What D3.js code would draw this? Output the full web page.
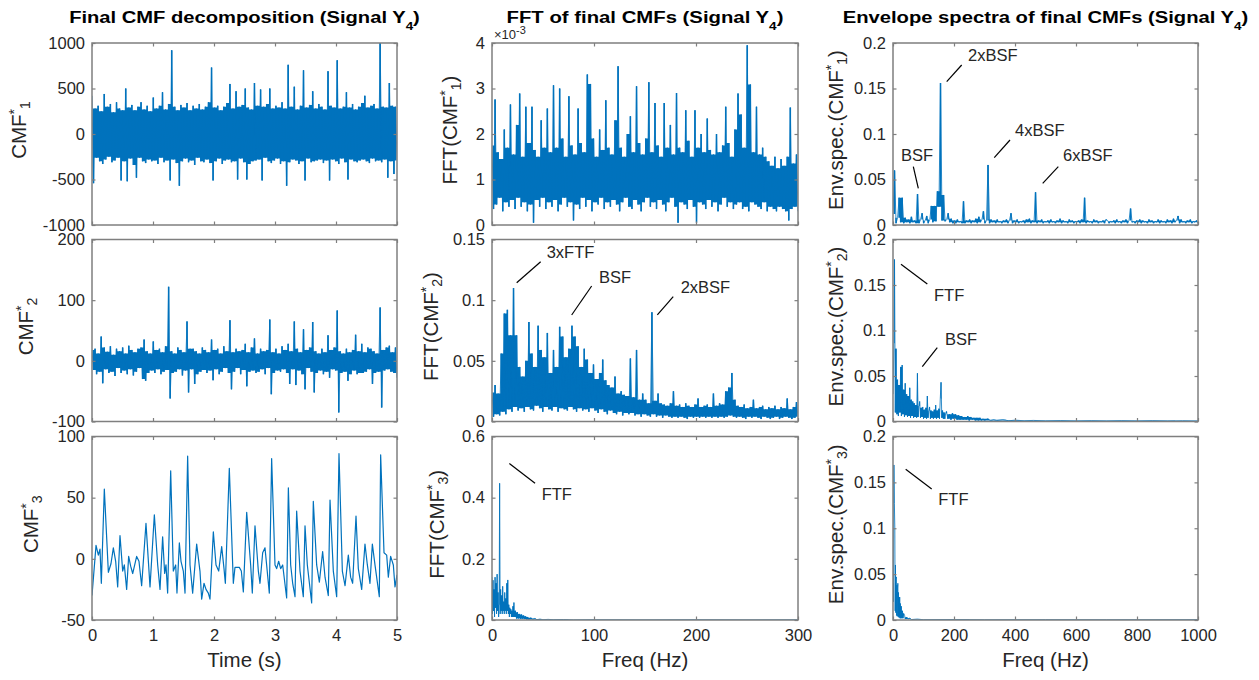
<!DOCTYPE html>
<html><head><meta charset="utf-8">
<script src="https://cdn.jsdelivr.net/npm/d3@7"></script>
<style>
body{margin:0;background:#fff;}
svg{display:block;font-family:"Liberation Sans",Arial,Helvetica,sans-serif;}
</style></head><body>
<svg id="chart" width="1259" height="680"></svg>
<script>
// ---------------- DATA ----------------
const titles = ["Final CMF decomposition (Signal Y", "FFT of final CMFs (Signal Y", "Envelope spectra of final CMFs (Signal Y"];
const titleSub = "4";
const xLabels = ["Time (s)", "Freq (Hz)", "Freq (Hz)"];
const timeTicks = [0, 1, 2, 3, 4, 5];
const fftTicks = [0, 100, 200, 300];
const envTicks = [0, 200, 400, 600, 800, 1000];
const cmf1Ticks = [-1000, -500, 0, 500, 1000];
const cmf2Ticks = [-100, 0, 100, 200];
const cmf3Ticks = [-50, 0, 50, 100];
const fft1Ticks = [0, 1, 2, 3, 4];       // x 10^-3
const fft2Ticks = [0, 0.05, 0.1, 0.15];
const fft3Ticks = [0, 0.2, 0.4, 0.6];
const envYTicks = [0, 0.05, 0.1, 0.15, 0.2];

// CMF*1 over 0..5 s (evenly sampled)
const cmf1Vals = [
 420,-540,280,-260,310,-300,250,-330,440,-280, 300,-250,330,-310,240,-290,350,-260,280,-510,
 260,-300,500,-520,290,-270,320,-340,260,-480, 300,-260,350,-300,270,-320,310,-280,250,-300,
 400,-290,280,-330,310,-260,460,-310,270,-290, 330,-510,920,-280,300,-320,260,-570,320,-300,
 290,-270,340,-310,260,-290,310,-340,280,-260, 330,-300,270,-310,300,-280,350,-320,730,-510,
 290,-300,310,-270,260,-330,300,-290,340,-280, 550,-310,280,-300,470,-500,300,-270,320,-310,
 500,-500,290,-330,270,-300,560,-290,310,-280, 490,-510,300,-260,330,-300,500,-320,280,-290,
 310,-270,290,-330,350,-300,280,-570,760,-310, 300,-280,520,-290,270,-330,310,-300,700,-510,
 290,-270,320,-310,470,-300,280,-290,330,-280, 300,-320,270,-290,690,-510,310,-280,290,-300,
 810,-330,280,-270,300,-310,460,-500,290,-280, 330,-300,270,-310,300,-290,340,-280,420,-300,
 290,-320,310,-270,330,-300,280,-290,1000,-310, 300,-280,290,-480,560,-300,310,-440,300,-290
];
// CMF*2 over 0..5 s (evenly sampled)
const cmf2Vals = [
 18,-15,20,-22,12,-18,40,-37,22,-14, 15,-20,24,-18,10,-25,20,-12,16,-20,
 22,-16,12,-22,25,-14,18,-24,14,-18, 20,-12,22,-30,35,-33,16,-20,12,-16,
 32,-20,18,-14,20,-22,14,-18,24,-15, 122,-62,16,-20,12,-18,22,-14,18,-24,
 14,-16,65,-52,20,-14,20,-38,16,-22, 12,-18,22,-15,18,-20,14,-16,35,-32,
 18,-14,20,-22,12,-18,24,-12,16,-20, 67,-47,14,-18,20,-12,16,-22,18,-15,
 28,-42,14,-18,22,-16,37,-20,12,-18, 20,-14,16,-22,18,-12,68,-55,14,-20,
 20,-16,12,-18,24,-14,18,-20,28,-38, 16,-14,65,-40,20,-16,14,-22,52,-47,
 18,-12,22,-18,64,-52,16,-20,12,-16, 20,-22,14,-18,42,-28,18,-14,22,-16,
 83,-85,16,-20,12,-18,20,-33,14,-22, 18,-16,43,-22,16,-20,28,-20,14,-18,
 22,-14,20,-38,16,-20,12,-18,88,-77, 18,-16,22,-14,25,-18,14,-20,22,-28
];
// CMF*3 (time in s, value)
const cmf3Time = [0,.066,.104,.131,.153,.202,.268,.311,.350,.388,.421,.459,.503,.530,.568,.601,.634,.667,.732,.770,
 .814,.885,.951,1.022,1.077,1.115,1.158,1.191,1.213,1.240,1.290,1.333,1.372,1.393,1.432,1.459,1.497,1.525,1.568,1.607,
 1.650,1.716,1.770,1.798,1.836,1.869,1.907,1.934,1.989,2.033,2.077,2.126,2.164,2.186,2.251,2.317,2.344,2.415,2.448,2.481,
 2.536,2.601,2.628,2.672,2.727,2.754,2.798,2.836,2.863,2.907,2.945,3.000,3.027,3.060,3.093,3.126,3.191,3.219,3.257,3.290,
 3.328,3.355,3.410,3.464,3.492,3.530,3.601,3.628,3.683,3.727,3.781,3.820,3.874,3.902,3.956,4.011,4.049,4.104,4.148,4.202,
 4.240,4.273,4.328,4.366,4.421,4.475,4.514,4.557,4.596,4.639,4.710,4.732,4.787,4.831,4.858,4.896,4.940,4.967,5.000];
const cmf3Vals = [-30,11,3,8,-20,57,-11,-4,9,-2,-23,19,-10,-5,-25,2,-6,-12,2,-2,
 -22,29,-23,36,-5,-25,18,-12,-5,-28,72,-10,-5,-28,13,-2,-10,-28,84,-5,
 -28,12,-10,-33,-20,-25,-28,-33,22,-5,-10,10,-8,-20,74,-20,-7,-7,-10,-27,
 38,-5,-28,27,-10,-20,5,9,-5,-28,82,-5,-8,-2,-8,-5,-32,58,-5,-20,
 -31,39,-10,-31,27,-5,-36,47,-5,-19,6,-15,-30,48,-10,-31,86,-10,-22,3,
 -15,-20,35,-8,-25,12,-5,-20,12,-5,-31,85,5,3,-15,2,-5,-23,-13];

// FFT(CMF*1), 0..300 Hz, values in units of 1e-3
const fft1Milli = [
 1.75,0.35,2.76,0.45,1.6,0.6,1.45,0.3,2.1,0.5, 1.7,0.4,2.65,0.55,1.55,0.35,2.2,0.6,2.89,0.4,
 1.5,0.5,2.6,0.3,1.8,0.45,2.6,0.05,1.65,0.55, 1.5,0.4,2.3,0.6,1.7,0.35,2.56,0.5,1.6,0.4,
 3.07,0.55,1.7,0.3,3.0,0.45,1.9,0.6,1.5,0.4, 2.83,0.5,1.75,0.1,1.55,0.45,2.56,0.35,1.8,0.6,
 1.6,0.4,3.31,0.55,3.1,0.3,1.9,0.5,1.5,0.45, 2.1,0.6,1.65,0.35,2.74,0.5,1.7,0.4,1.55,0.55,
 2.3,0.45,3.49,0.3,1.7,0.5,1.5,0.6,2.0,0.4, 2.39,0.35,1.6,0.55,3.05,0.45,1.8,0.3,1.55,0.5,
 1.9,0.6,3.14,0.4,1.6,0.5,2.68,0.35,1.75,0.55, 1.5,0.45,2.68,0.3,1.7,0.5,2.2,0.6,1.55,0.4,
 2.9,0.05,1.7,0.5,1.6,0.45,2.52,0.35,1.85,0.55, 1.5,0.4,2.52,0.05,1.7,0.5,2.0,0.45,1.6,0.35,
 2.34,0.55,1.65,0.4,1.55,0.5,2.0,0.3,1.6,0.45, 1.75,0.6,2.6,0.4,1.8,0.5,1.5,0.35,2.1,0.45,
 2.89,0.5,2.43,0.35,1.7,0.4,3.95,0.3,3.09,0.5, 1.6,0.45,2.6,0.4,1.55,0.35,1.7,0.5,1.5,0.3,
 1.4,0.4,1.3,0.35,1.5,0.3,1.25,0.4,1.45,0.35, 1.3,0.3,1.5,0.1,2.58,0.35,1.35,0.4,1.55,0.3
];
// FFT(CMF*2), 0..300 Hz
const fft2Vals = [
 0.024,0.004,0.030,0.006,0.023,0.005,0.056,0.008,0.089,0.006, 0.092,0.010,0.071,0.008,0.110,0.012,0.071,0.009,0.045,0.011,
 0.037,0.008,0.050,0.012,0.082,0.010,0.056,0.009,0.045,0.013, 0.079,0.011,0.059,0.008,0.053,0.012,0.073,0.010,0.040,0.009,
 0.059,0.012,0.045,0.008,0.078,0.011,0.070,0.010,0.053,0.009, 0.060,0.012,0.079,0.010,0.070,0.008,0.062,0.011,0.045,0.009,
 0.060,0.010,0.051,0.008,0.040,0.011,0.047,0.009,0.035,0.007, 0.040,0.010,0.051,0.008,0.034,0.006,0.030,0.009,0.028,0.007,
 0.037,0.006,0.023,0.008,0.025,0.005,0.022,0.007,0.021,0.006, 0.052,0.007,0.020,0.005,0.059,0.006,0.018,0.004,0.023,0.006,
 0.018,0.005,0.015,0.004,0.090,0.006,0.017,0.004,0.023,0.005, 0.015,0.003,0.014,0.005,0.013,0.004,0.015,0.003,0.025,0.004,
 0.013,0.003,0.014,0.004,0.012,0.003,0.015,0.002,0.013,0.004, 0.012,0.003,0.014,0.004,0.019,0.003,0.012,0.004,0.013,0.003,
 0.014,0.004,0.012,0.003,0.023,0.004,0.013,0.003,0.015,0.004, 0.014,0.003,0.025,0.004,0.028,0.005,0.040,0.004,0.018,0.003,
 0.013,0.004,0.012,0.003,0.014,0.002,0.011,0.004,0.012,0.003, 0.018,0.004,0.011,0.003,0.012,0.002,0.013,0.004,0.010,0.003,
 0.012,0.002,0.011,0.003,0.013,0.004,0.010,0.002,0.012,0.003, 0.011,0.004,0.019,0.003,0.010,0.002,0.012,0.003,0.016,0.004
];
// FFT(CMF*3) (Hz, value)
const fft3Freq = [0,0.5,1,1.5,2,2.5,3,3.5,4,4.5,5,5.5,6,6.5,7,7.5,8,8.5,9,9.5,10,10.5,11,11.5,12,12.5,13,13.5,14,14.5,15,15.5,16,16.5,17,17.5,18,18.5,19,19.5,20,20.5,21,21.5,22,23,24,25,26,27,28,29,30,31,32,33,34,35,36,38,40,42,44,47,50,55,60,70,80,100,150,200,250,300];
const fft3Vals = [0.14,0.02,0.13,0.03,0.1,0.01,0.14,0.04,0.12,0.02,0.15,0.03,0.09,0.01,0.05,0.447,0.02,0.1,0.03,0.08,0.02,0.11,0.03,0.06,0.02,0.09,0.03,0.07,0.02,0.12,0.03,0.131,0.02,0.05,0.01,0.04,0.02,0.035,0.01,0.03,0.01,0.045,0.01,0.057,0.01,0.03,0.005,0.025,0.005,0.02,0.004,0.018,0.004,0.015,0.003,0.012,0.002,0.01,0.002,0.007,0.002,0.005,0.001,0.003,0.001,0.002,0.001,0.0015,0.0005,0.001,0.0005,0.001,0.0005,0.0008];

// Envelope spectrum CMF*1, 0..1000 Hz (evenly sampled)
const env1Vals = [
 0.012,0.060,0.002,0.008,0.030,0.003,0.030,0.002,0.008,0.003, 0.006,0.002,0.009,0.003,0.005,0.002,0.034,0.002,0.006,0.013,
 0.002,0.005,0.010,0.002,0.006,0.021,0.003,0.021,0.004,0.037, 0.020,0.156,0.005,0.033,0.004,0.006,0.013,0.003,0.007,0.002,
 0.005,0.002,0.006,0.003,0.004,0.002,0.026,0.002,0.005,0.003, 0.006,0.002,0.005,0.003,0.007,0.002,0.009,0.003,0.006,0.015,
 0.002,0.005,0.066,0.002,0.006,0.003,0.005,0.002,0.006,0.003, 0.004,0.002,0.005,0.003,0.006,0.002,0.005,0.013,0.002,0.005,
 0.003,0.006,0.002,0.004,0.003,0.005,0.002,0.006,0.003,0.007, 0.002,0.005,0.003,0.036,0.002,0.005,0.003,0.006,0.002,0.004,
 0.003,0.005,0.002,0.006,0.003,0.004,0.002,0.005,0.003,0.007, 0.002,0.005,0.003,0.004,0.002,0.006,0.003,0.005,0.002,0.004,
 0.003,0.005,0.002,0.006,0.003,0.030,0.002,0.005,0.003,0.004, 0.002,0.006,0.003,0.005,0.002,0.004,0.003,0.005,0.002,0.006,
 0.005,0.002,0.004,0.003,0.005,0.002,0.006,0.003,0.004,0.002, 0.005,0.003,0.006,0.002,0.005,0.018,0.003,0.004,0.002,0.005,
 0.003,0.006,0.002,0.005,0.003,0.004,0.002,0.006,0.003,0.005, 0.002,0.004,0.003,0.006,0.002,0.005,0.003,0.004,0.002,0.006,
 0.003,0.005,0.002,0.007,0.003,0.005,0.010,0.002,0.006,0.003, 0.004,0.002,0.005,0.003,0.006,0.002,0.004,0.003,0.005,0.002
];
// Envelope spectrum CMF*2 (Hz, value)
const env2Freq = [0,3,5,7.5,10,12.5,15,17.5,20,22.5,25,27.5,30,32.5,35,37.5,40,42.5,45,47.5,50,52.5,55,57.5,60,62.5,65,67.5,70,72.5,75,77.5,80,82.5,85,87.5,90,92.5,95,97.5,100,102.5,105,107.5,110,112.5,115,117.5,120,122.5,125,127.5,130,132.5,135,137.5,140,142.5,145,147.5,150,152.5,155,157.5,160,162.5,165,167.5,170,172.5,175,
 180,185,190,195,200,205,210,215,220,225,230,235,240,245,250,255,260,265,270,275,280,285,290,295,300,310,320,330,340,360,380,400,430,460,500,550,600,650,700,750,800,850,900,950,1000];
const env2Vals = [0.03,0.086,0.178,0.01,0.080,0.008,0.046,0.006,0.040,0.01,0.060,0.006,0.062,0.008,0.035,0.005,0.042,0.007,0.030,0.005,0.028,0.006,0.037,0.004,0.024,0.006,0.022,0.004,0.020,0.005,0.018,0.004,0.053,0.005,0.017,0.022,0.004,0.015,0.005,0.016,0.003,0.013,0.004,0.015,0.003,0.028,0.004,0.012,0.016,0.003,0.012,0.004,0.011,0.003,0.013,0.004,0.018,0.003,0.012,0.004,0.014,0.003,0.025,0.043,0.004,0.012,0.003,0.010,0.003,0.009,0.011,
 0.003,0.008,0.002,0.009,0.003,0.008,0.002,0.007,0.002,0.006,0.002,0.005,0.002,0.006,0.001,0.005,0.002,0.004,0.001,0.004,0.001,0.004,0.001,0.003,0.001,0.003,0.001,0.002,0.001,0.002,0.0008,0.0015,0.0008,0.0012,0.0007,0.001,0.0006,0.0009,0.0006,0.0009,0.0006,0.0009,0.0006,0.0009,0.0007];
// Envelope spectrum CMF*3 (Hz, value)
const env3Freq = [0,1.5,3,4.5,6,7,8,9,10,11,12,13,14,15,16,17,18,19,20,21,22,23,24,25,27,29,31,33,35,38,40,45,50,55,60,80,100,200,300,500,700,1000];
const env3Vals = [0.04,0.02,0.169,0.127,0.1,0.01,0.06,0.008,0.045,0.047,0.005,0.038,0.004,0.035,0.04,0.004,0.03,0.003,0.025,0.003,0.025,0.002,0.018,0.002,0.015,0.002,0.01,0.002,0.007,0.005,0.001,0.003,0.001,0.002,0.0005,0.001,0.0003,0.0005,0.0003,0.0004,0.0003,0.0004];

// Annotations: label anchored at (x,y) in data units, pointer line (x1,y1)->(x2,y2)
const annFFT2 = [
 {t:"3xFTF", x:53.6, y:0.1348, l:[47.7,0.1317,24.2,0.1144]},
 {t:"BSF",   x:104.9, y:0.1141, l:[97.7,0.1117,78.1,0.0878]},
 {t:"2xBSF", x:185, y:0.1059, l:[177.7,0.1029,162.1,0.0878]}];
const annFFT3 = [{t:"FTF", x:48.7, y:0.392, l:[17.0,0.512,42.2,0.447]}];
const annEnv1 = [
 {t:"2xBSF", x:245.9, y:0.180, l:[225.2,0.1758,176.1,0.1575]},
 {t:"4xBSF", x:400, y:0.0978, l:[383.6,0.0934,332.1,0.0740]},
 {t:"6xBSF", x:557.4, y:0.0703, l:[542,0.0641,490.8,0.0458]},
 {t:"BSF",   x:26.2, y:0.0703, l:[66.6,0.0641,83,0.0403]}];
const annEnv2 = [
 {t:"FTF", x:134.4, y:0.1324, l:[26.2,0.1727,112.5,0.1511]},
 {t:"BSF", x:170.5, y:0.0841, l:[145.2,0.0811,96.1,0.0602]}];
const annEnv3 = [{t:"FTF", x:148.5, y:0.1253, l:[41.6,0.1643,126.9,0.1428]}];

// ---------------- LAYOUT ----------------
const W = 1259, H = 680;
const colX = [[92, 397], [492, 798], [893, 1198]];
const rowY = [[43, 225], [239.5, 421.5], [436.5, 620]];
const LINE = "#0072BD", AXIS = "#7f7f7f", TXT = "#262626";
const TICK = 16.5, LAB = 20.5;
const ylabX = [[25.5, 33, 38], [457, 438, 444], [843, 843, 843]];

function evenly(vals, a, b) { const n = vals.length; return vals.map((v, i) => [a + (b - a) * i / (n - 1), v]); }
function pairs(xs, ys) { return xs.map((x, i) => [x, ys[i]]); }
const fmt = d => String(+d.toFixed(4));

// vertical extent covered by the trace around each sample (for densely packed signals)
function columns(pts) {
  return pts.map((d, i) => {
    const v = d[1];
    const pv = i > 0 ? pts[i - 1][1] : v, nv = i < pts.length - 1 ? pts[i + 1][1] : v;
    let o = v;
    if (v >= pv && v >= nv) o = Math.max(pv, nv);
    else if (v <= pv && v <= nv) o = Math.min(pv, nv);
    return [d[0], Math.min(v, o), Math.max(v, o)];
  });
}

const panels = [
 {c:0, r:0, xd:[0,5], yd:[-1000,1000], xt:timeTicks, yt:cmf1Ticks, pts:evenly(cmf1Vals,0,5), yl:["CMF","1",""], dense:true},
 {c:0, r:1, xd:[0,5], yd:[-100,200], xt:timeTicks, yt:cmf2Ticks, pts:evenly(cmf2Vals,0,5), yl:["CMF","2",""], dense:true},
 {c:0, r:2, xd:[0,5], yd:[-50,100], xt:timeTicks, yt:cmf3Ticks, pts:pairs(cmf3Time,cmf3Vals), yl:["CMF","3",""], xl:xLabels[0]},
 {c:1, r:0, xd:[0,300], yd:[0,4], xt:fftTicks, yt:fft1Ticks, pts:evenly(fft1Milli,0,300), yl:["FFT(CMF","1",")"], exp:true, dense:true},
 {c:1, r:1, xd:[0,300], yd:[0,0.15], xt:fftTicks, yt:fft2Ticks, pts:evenly(fft2Vals,0,300), yl:["FFT(CMF","2",")"], ann:annFFT2, dense:true},
 {c:1, r:2, xd:[0,300], yd:[0,0.6], xt:fftTicks, yt:fft3Ticks, pts:pairs(fft3Freq,fft3Vals), yl:["FFT(CMF","3",")"], ann:annFFT3, xl:xLabels[1], dense:true},
 {c:2, r:0, xd:[0,1000], yd:[0,0.2], xt:envTicks, yt:envYTicks, pts:evenly(env1Vals,0,1000), yl:["Env.spec.(CMF","1",")"], ann:annEnv1, dense:true},
 {c:2, r:1, xd:[0,1000], yd:[0,0.2], xt:envTicks, yt:envYTicks, pts:pairs(env2Freq,env2Vals), yl:["Env.spec.(CMF","2",")"], ann:annEnv2, dense:true},
 {c:2, r:2, xd:[0,1000], yd:[0,0.2], xt:envTicks, yt:envYTicks, pts:pairs(env3Freq,env3Vals), yl:["Env.spec.(CMF","3",")"], ann:annEnv3, xl:xLabels[2], dense:true}
];

const svg = d3.select("#chart");
svg.append("rect").attr("width", W).attr("height", H).attr("fill", "#fff");

panels.forEach((p, k) => {
  const [x0, x1] = colX[p.c], [y0, y1] = rowY[p.r];
  const x = d3.scaleLinear().domain(p.xd).range([x0, x1]);
  const y = d3.scaleLinear().domain(p.yd).range([y1, y0]);
  const g = svg.append("g");
  const cid = "clip" + k;
  svg.append("clipPath").attr("id", cid).append("rect")
    .attr("x", x0).attr("y", y0).attr("width", x1 - x0).attr("height", y1 - y0);
  const plot = g.append("g").attr("clip-path", `url(#${cid})`);

  // signal
  if (p.dense) {
    plot.append("path").datum(columns(p.pts))
      .attr("fill", LINE).attr("stroke", "none")
      .attr("d", d3.area().curve(d3.curveStep).x(d => x(d[0])).y0(d => y(d[1])).y1(d => y(d[2])));
  }
  plot.append("path").datum(p.pts)
    .attr("fill", "none").attr("stroke", LINE).attr("stroke-width", p.dense ? 0.8 : 1.2)
    .attr("stroke-linejoin", "round")
    .attr("d", d3.line().x(d => x(d[0])).y(d => y(d[1])));

  // axes (inward ticks)
  const styleAxis = sel => {
    sel.select(".domain").remove();
    sel.selectAll(".tick line").attr("stroke", AXIS).attr("stroke-width", 1.2);
    sel.selectAll("text").attr("fill", TXT).attr("font-size", TICK)
      .attr("font-family", '"Liberation Sans", Arial, sans-serif');
  };
  g.append("g").attr("transform", `translate(${x0},0)`)
    .call(d3.axisLeft(y).tickValues(p.yt).tickFormat(fmt).tickSizeInner(-3.5).tickSizeOuter(0).tickPadding(7))
    .call(styleAxis);
  g.append("g").attr("transform", `translate(${x1},0)`)
    .call(d3.axisRight(y).tickValues(p.yt).tickFormat("").tickSizeInner(-3.5).tickSizeOuter(0))
    .call(styleAxis);
  g.append("g").attr("transform", `translate(0,${y1})`)
    .call(d3.axisBottom(x).tickValues(p.xt).tickFormat(p.r === 2 ? fmt : "").tickSizeInner(-3.5).tickSizeOuter(0).tickPadding(9))
    .call(styleAxis);
  g.append("g").attr("transform", `translate(0,${y0})`)
    .call(d3.axisTop(x).tickValues(p.xt).tickFormat("").tickSizeInner(-3.5).tickSizeOuter(0))
    .call(styleAxis);

  // box
  g.append("rect").attr("x", x0).attr("y", y0).attr("width", x1 - x0).attr("height", y1 - y0)
    .attr("fill", "none").attr("stroke", AXIS).attr("stroke-width", 1.5);

  // y label
  const yl = g.append("text")
    .attr("transform", `translate(${ylabX[p.c][p.r]},${(y0 + y1) / 2 - 4}) rotate(-90)`)
    .attr("text-anchor", "middle").attr("fill", TXT).attr("font-size", LAB);
  yl.append("tspan").text(p.yl[0]);
  yl.append("tspan").attr("font-size", 14).attr("dy", -7).text("*");
  yl.append("tspan").attr("font-size", 14).attr("dy", 11).text(p.yl[1]);
  if (p.yl[2]) yl.append("tspan").attr("font-size", LAB).attr("dy", -4).text(p.yl[2]);

  // x label
  if (p.xl) {
    g.append("text").attr("x", (x0 + x1) / 2).attr("y", 667).attr("text-anchor", "middle")
      .attr("fill", TXT).attr("font-size", LAB).text(p.xl);
  }

  // exponent
  if (p.exp) {
    const e = g.append("text").attr("x", x0 + 2).attr("y", y0 - 4).attr("fill", TXT).attr("font-size", 13);
    e.append("tspan").text("\u00d710");
    e.append("tspan").attr("dy", -5).attr("font-size", 11).text("-3");
  }

  // annotations
  (p.ann || []).forEach(a => {
    g.append("line").attr("x1", x(a.l[0])).attr("y1", y(a.l[1])).attr("x2", x(a.l[2])).attr("y2", y(a.l[3]))
      .attr("stroke", "#000").attr("stroke-width", 1.2);
    g.append("text").attr("x", x(a.x)).attr("y", y(a.y)).attr("fill", TXT).attr("font-size", 16.5).text(a.t);
  });
});

// titles
const titleW = [351, 277, 406];
titles.forEach((t, i) => {
  const cx = (colX[i][0] + colX[i][1]) / 2;
  const tt = svg.append("text").attr("x", cx).attr("y", 23).attr("text-anchor", "middle")
    .attr("font-weight", "bold").attr("font-size", 16.5).attr("fill", "#000");
  tt.append("tspan").text(t);
  tt.append("tspan").attr("dy", 7).attr("font-size", 11).text(titleSub);
  tt.append("tspan").attr("dy", -7).attr("font-size", 16.5).text(")");
  const w = tt.node().getBBox().width;
  const s = titleW[i] / w;
  tt.attr("transform", `translate(${cx},0) scale(${s},1) translate(${-cx},0)`);
});
</script>
</body></html>
